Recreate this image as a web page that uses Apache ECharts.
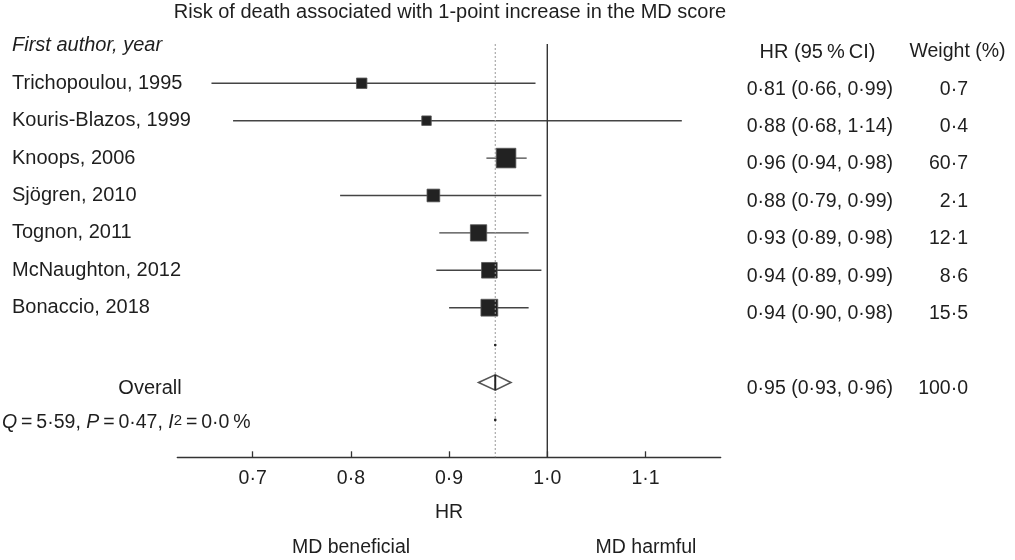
<!DOCTYPE html>
<html>
<head>
<meta charset="utf-8">
<script src="https://cdn.jsdelivr.net/npm/echarts@6/dist/echarts.min.js"></script>
<style>html,body{margin:0;padding:0;background:#fff}#c{width:1015px;height:560px}</style>
</head>
<body>
<div id="c"></div>
<script>
// ---- data ----
const studies = ['Trichopoulou, 1995', 'Kouris-Blazos, 1999', 'Knoops, 2006', 'Sjögren, 2010', 'Tognon, 2011', 'McNaughton, 2012', 'Bonaccio, 2018'];
const hrEst  = [0.811, 0.877, 0.958, 0.884, 0.930, 0.941, 0.941];
const ciLow  = [0.658, 0.680, 0.938, 0.789, 0.890, 0.887, 0.900];
const ciHigh = [0.988, 1.137, 0.979, 0.994, 0.981, 0.994, 0.981];
const weightPct = [0.7, 0.4, 60.7, 2.1, 12.1, 8.6, 15.5];
const overallEst = 0.947, overallLow = 0.930, overallHigh = 0.963, overallWeight = 100.0;
const hetQ = 5.59, hetP = 0.47, hetI2 = 0.0;
const nullValue = 1.0;
const xTicks = [0.7, 0.8, 0.9, 1.0, 1.1];
const blankRows = [7, 9];
const overallRow = 8;

const FONT = "'Liberation Sans', Arial, Helvetica, sans-serif";
const FS = 19.5;
const FSL = 20;
const TXT = '#1e1e1e';
const dot = s => s.replace('.', '·');
const f2 = v => dot(v.toFixed(2));
const f1 = v => dot(v.toFixed(1));
const TS = '\u2009';

const chart = echarts.init(document.getElementById('c'), null, {renderer: 'canvas'});

const forestData = studies.map((s, i) => [hrEst[i], ciLow[i], ciHigh[i], i, weightPct[i]]);
const textRows = studies.map((s, i) => ({name: s, row: i, est: f2(hrEst[i]) + ' (' + f2(ciLow[i]) + ', ' + f2(ciHigh[i]) + ')', w: f1(weightPct[i]), overall: false}));
textRows.push({name: 'Overall', row: overallRow, est: f2(overallEst) + ' (' + f2(overallLow) + ', ' + f2(overallHigh) + ')', w: f1(overallWeight), overall: true});

const sqSize = w => Math.max(9.5, 11.2 + 2.05 * Math.log(w));

chart.setOption({
  animation: false,
  grid: {left: 177.3, right: 294.3, top: 44, bottom: 102.7, containLabel: false},
  xAxis: {
    type: 'value', min: 0.6232, max: 1.1766,
    splitLine: {show: false},
    axisLine: {onZero: false, lineStyle: {color: '#333', width: 1.3}},
    axisTick: {show: true, inside: true, length: 6, customValues: xTicks, lineStyle: {color: '#333', width: 1.3}},
    axisLabel: {customValues: xTicks, formatter: v => f1(v), color: TXT, fontFamily: FONT, fontSize: FS, margin: 11},
    name: 'HR', nameLocation: 'middle', nameGap: 55.5,
    nameTextStyle: {color: TXT, fontFamily: FONT, fontSize: FS, verticalAlign: 'middle'}
  },
  yAxis: {type: 'value', inverse: true, min: -1.05, max: 10, show: false},
  graphic: [
    {type: 'text', x: 450, y: 12, style: {text: 'Risk of death associated with 1-point increase in the MD score', fill: TXT, font: FSL + 'px ' + FONT, align: 'center', verticalAlign: 'middle'}},
    {type: 'text', x: 12, y: 45, style: {text: 'First author, year', fill: TXT, font: 'italic ' + FSL + 'px ' + FONT, align: 'left', verticalAlign: 'middle'}},
    {type: 'text', x: 817.5, y: 52, style: {text: 'HR (95' + TS + '%' + TS + 'CI)', fill: TXT, font: FSL + 'px ' + FONT, align: 'center', verticalAlign: 'middle'}},
    {type: 'text', x: 957.5, y: 52, style: {text: 'Weight (%)', fill: TXT, font: FS + 'px ' + FONT, align: 'center', verticalAlign: 'middle'}},
    {type: 'text', x: 351, y: 548, style: {text: 'MD beneficial', fill: TXT, font: FS + 'px ' + FONT, align: 'center', verticalAlign: 'middle'}},
    {type: 'text', x: 646, y: 548, style: {text: 'MD harmful', fill: TXT, font: FS + 'px ' + FONT, align: 'center', verticalAlign: 'middle'}}
  ],
  series: [
    {
      type: 'custom', name: 'studies', z: 2, clip: false,
      data: forestData,
      renderItem: function (params, api) {
        const est = api.value(0), lo = api.value(1), hi = api.value(2), row = api.value(3), w = api.value(4);
        const pl = api.coord([lo, row]), ph = api.coord([hi, row]), pc = api.coord([est, row]);
        const s = sqSize(w);
        return {type: 'group', children: [
          {type: 'line', shape: {x1: pl[0], y1: pl[1], x2: ph[0], y2: ph[1]}, style: {stroke: '#444', lineWidth: 1.4}},
          {type: 'rect', shape: {x: pc[0] - s / 2, y: pc[1] - s / 2, width: s, height: s}, style: {fill: '#222', stroke: '#555', lineWidth: 0.8}}
        ]};
      }
    },
    {
      type: 'custom', name: 'overall', z: 3, clip: false,
      data: [[overallEst, overallLow, overallHigh, overallRow]],
      renderItem: function (params, api) {
        const est = api.value(0), lo = api.value(1), hi = api.value(2), row = api.value(3);
        const pl = api.coord([lo, row]), ph = api.coord([hi, row]), pc = api.coord([est, row]);
        const cs = params.coordSys;
        const top = cs.y, bottom = cs.y + cs.height;
        const pn = api.coord([nullValue, row]);
        const h = 7.7;
        const kids = [
          {type: 'polygon', shape: {points: [[pl[0], pl[1]], [pc[0], pc[1] - h], [ph[0], ph[1]], [pc[0], pc[1] + h]]}, style: {fill: '#fff', stroke: '#555', lineWidth: 1.6}},
          {type: 'line', z2: 10, shape: {x1: pc[0], y1: top, x2: pc[0], y2: bottom}, style: {stroke: '#999', lineWidth: 1, lineDash: [2, 2]}},
          {type: 'line', z2: 10, shape: {x1: pn[0], y1: top, x2: pn[0], y2: bottom}, style: {stroke: '#333', lineWidth: 1.4}},
          {type: 'line', z2: 12, shape: {x1: pc[0], y1: pc[1] - h, x2: pc[0], y2: pc[1] + h}, style: {stroke: '#222', lineWidth: 2}}
        ];
        blankRows.forEach(r => {
          const p = api.coord([est, r]);
          kids.push({type: 'circle', z2: 11, shape: {cx: p[0], cy: p[1], r: 1.3}, style: {fill: '#222'}});
        });
        return {type: 'group', children: kids};
      }
    },
    {
      type: 'custom', name: 'texts', z: 6, clip: false, silent: true,
      data: textRows.map(t => [0.7, t.row]),
      renderItem: function (params, api) {
        const t = textRows[params.dataIndex];
        const y = api.coord([0.7, t.row])[1];
        const font = FS + 'px ' + FONT;
        const fontL = FSL + 'px ' + FONT;
        const kids = [];
        if (t.overall) {
          kids.push({type: 'text', x: 150, y: y + 6, style: {text: t.name, fill: TXT, font: fontL, align: 'center', verticalAlign: 'middle'}});
        } else {
          kids.push({type: 'text', x: 12, y: y, style: {text: t.name, fill: TXT, font: fontL, align: 'left', verticalAlign: 'middle'}});
        }
        kids.push({type: 'text', x: 746.7, y: y + 6, style: {text: t.est, fill: TXT, font: font, align: 'left', verticalAlign: 'middle'}});
        kids.push({type: 'text', x: 968, y: y + 6, style: {text: t.w, fill: TXT, font: font, align: 'right', verticalAlign: 'middle'}});
        if (t.overall) {
          const yq = api.coord([0.7, 9])[1] + 3;
          kids.push({type: 'text', x: 2, y: yq, style: {
            text: '{i|Q}' + TS + '=' + TS + f2(hetQ) + ', {i|P}' + TS + '=' + TS + f2(hetP) + ', {i|I}{sup|2}' + TS + '=' + TS + f1(hetI2) + TS + '%',
            fill: TXT, font: font, align: 'left', verticalAlign: 'middle',
            rich: {
              i: {fontStyle: 'italic', fontFamily: FONT, fontSize: FS, fill: TXT},
              sup: {fontFamily: FONT, fontSize: 15, fill: TXT, verticalAlign: 'top'}
            }
          }});
        }
        return {type: 'group', children: kids};
      }
    }
  ]
});
</script>
</body>
</html>
